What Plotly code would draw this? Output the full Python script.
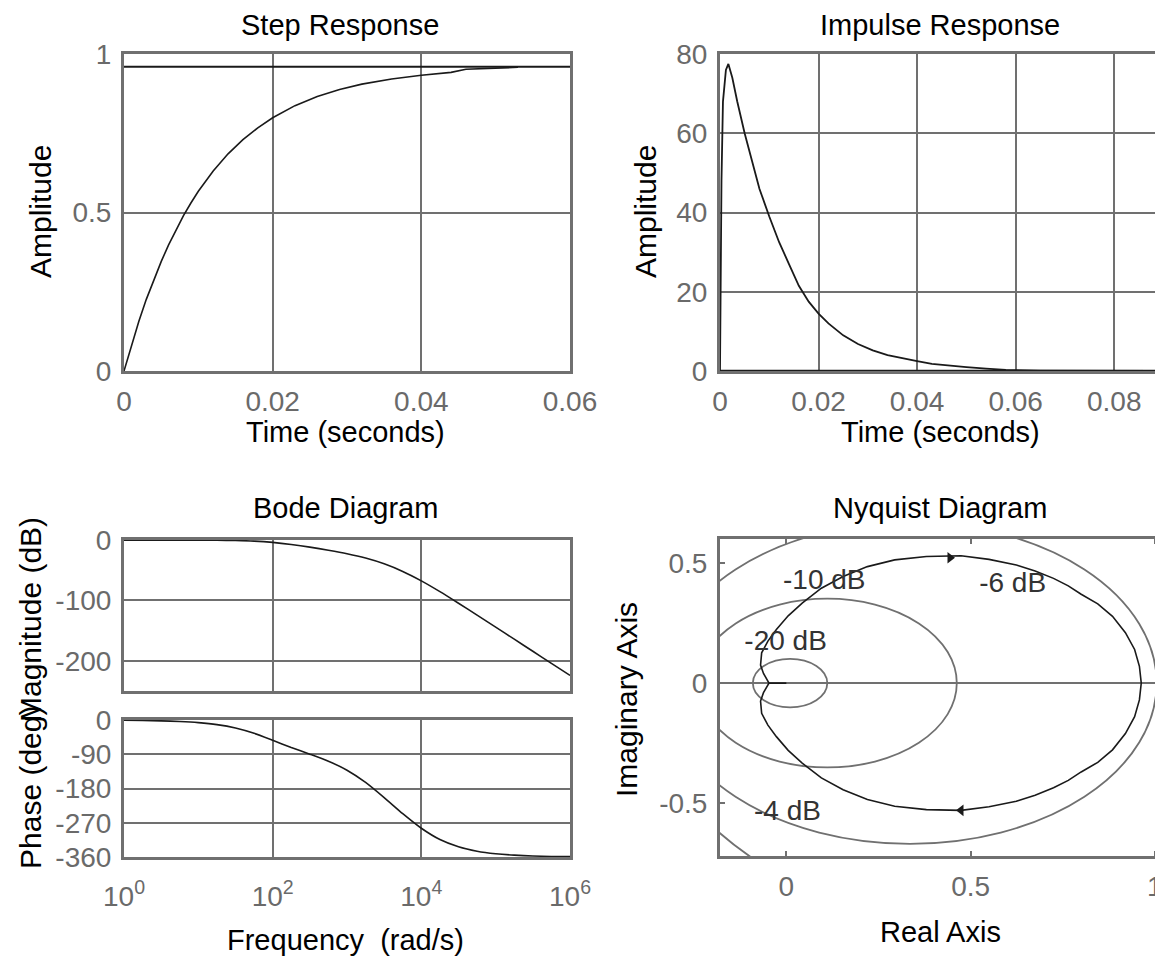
import plotly.graph_objects as go

# ---------------- data ----------------
# Step response
step_t = [0, 0.001, 0.002, 0.003, 0.004, 0.005, 0.006, 0.007, 0.008, 0.009, 0.010,
          0.012, 0.014, 0.016, 0.018, 0.020, 0.023, 0.026, 0.029, 0.032, 0.036,
          0.040, 0.044, 0.046, 0.053]
step_y = [0, 0.082, 0.157, 0.226, 0.288, 0.345, 0.398, 0.446, 0.490, 0.530, 0.567,
          0.631, 0.685, 0.730, 0.767, 0.799, 0.837, 0.866, 0.888, 0.905, 0.921,
          0.933, 0.942, 0.952, 0.958]
step_final = 0.96
step_t_end = 0.06

# Impulse response
imp_t = [0, 0.0001, 0.0003, 0.0006, 0.0012, 0.0017, 0.0025, 0.0035, 0.005, 0.0065,
         0.008, 0.010, 0.012, 0.014, 0.016, 0.018, 0.020, 0.022, 0.025, 0.028,
         0.031, 0.034, 0.037, 0.040, 0.043, 0.046, 0.050, 0.054, 0.058, 0.065, 0.09]
imp_y = [0, 17, 48, 68, 76, 77.5, 74, 68, 60, 53,
         46, 39, 32.5, 27, 21.5, 17.5, 14.5, 12, 9, 6.8,
         5.2, 4.0, 3.2, 2.5, 1.8, 1.4, 1.0, 0.6, 0.3, 0.1, 0]

# Bode diagram
bode_w = [1, 1.778, 3.162, 5.623, 10, 17.78, 31.62, 56.23, 100, 177.8, 316.2, 562.3,
          1000, 1778, 3162, 5623, 1e4, 17783, 31623, 56234, 1e5, 177828, 316228,
          562341, 1e6]
bode_mag = [-0.35, -0.35, -0.36, -0.37, -0.40, -0.52, -0.87, -1.81, -3.91, -7.38,
            -11.83, -16.90, -22.69, -29.85, -39.42, -52.03, -67.6, -85.47, -104.64,
            -124.36, -144.26, -164.23, -184.22, -204.22, -224.22]
bode_phase = [-0.7, -1.2, -2.2, -3.9, -6.9, -12.2, -21.1, -35.1, -53.3, -72.2, -89.8,
              -108.3, -131.9, -163.9, -203.8, -246.1, -284.4, -314.1, -333.1, -344.7,
              -351.4, -355.1, -357.3, -358.5, -359.1]

# Nyquist (positive-frequency branch; negative branch is its mirror)
nyq_re = [0.963, 0.958, 0.945, 0.92, 0.885, 0.845, 0.80, 0.765, 0.725, 0.675, 0.624,
          0.55, 0.474, 0.38, 0.294, 0.22, 0.154, 0.095, 0.043, 0.005, -0.027, -0.05,
          -0.067, -0.07, -0.062, -0.047, -0.02, 0.0]
nyq_im = [0.0, -0.07, -0.14, -0.21, -0.278, -0.33, -0.37, -0.405, -0.436, -0.467, -0.492,
          -0.515, -0.53, -0.527, -0.513, -0.485, -0.444, -0.395, -0.333, -0.28, -0.223,
          -0.175, -0.126, -0.075, -0.04, 0.0, 0.0, 0.0]
nyq_arrow_re = [0.474, 0.444]
nyq_arrow_im = [-0.53, 0.522]
nyq_grid_db = [-20, -10, -6, -4]
nyq_lbl_x = [0.103, 0.614, -0.002, 0.003]
nyq_lbl_y = [0.42, 0.407, 0.165, -0.54]
nyq_lbl_text = ["-10 dB", "-6 dB", "-20 dB", "-4 dB"]

# ---------------- styling ----------------
OFF = 8                      # page body margin of the viewer
W, H = 1163 - OFF, 960 - OFF
FONT = "Liberation Sans, Arial, Helvetica, sans-serif"
GRID = "#707070"
TICKC = "#6a6a6a"
CURVE = "#1a1a1a"
TICKFS = 28
TITLEFS = 29
ROTFS = 30


def px(x):
    return (x - OFF) / W


def py(y):
    return 1 - (y - OFF) / H


fig = go.Figure()

# Step
fig.add_trace(go.Scatter(x=[0, step_t_end], y=[step_final, step_final], mode="lines",
                         line=dict(color=CURVE, width=2), xaxis="x", yaxis="y"))
fig.add_trace(go.Scatter(x=step_t, y=step_y, mode="lines",
                         line=dict(color=CURVE, width=1.6), xaxis="x", yaxis="y"))
# Impulse
fig.add_trace(go.Scatter(x=[0, imp_t[-1]], y=[0, 0], mode="lines",
                         line=dict(color=CURVE, width=2.5), xaxis="x2", yaxis="y2"))
fig.add_trace(go.Scatter(x=imp_t, y=imp_y, mode="lines",
                         line=dict(color=CURVE, width=1.8), xaxis="x2", yaxis="y2"))
# Bode
fig.add_trace(go.Scatter(x=bode_w, y=bode_mag, mode="lines",
                         line=dict(color=CURVE, width=1.6, shape="spline", smoothing=0.6),
                         xaxis="x3", yaxis="y3"))
fig.add_trace(go.Scatter(x=bode_w, y=bode_phase, mode="lines",
                         line=dict(color=CURVE, width=1.6, shape="spline", smoothing=0.6),
                         xaxis="x4", yaxis="y4"))
# Nyquist curve: mirrored negative-frequency branch then positive branch
fig.add_trace(go.Scatter(x=nyq_re[::-1] + nyq_re, y=[-v for v in nyq_im[::-1]] + nyq_im,
                         mode="lines", line=dict(color=CURVE, width=1.6),
                         xaxis="x5", yaxis="y5"))
fig.add_trace(go.Scatter(x=nyq_arrow_re, y=nyq_arrow_im, mode="markers",
                         marker=dict(symbol=["triangle-left", "triangle-right"], size=10,
                                     color=CURVE),
                         xaxis="x5", yaxis="y5"))
fig.add_trace(go.Scatter(x=nyq_lbl_x, y=nyq_lbl_y, mode="text", text=nyq_lbl_text,
                         textfont=dict(family=FONT, size=TICKFS, color="#333333"),
                         xaxis="x5", yaxis="y5"))

for db in nyq_grid_db:
    m = 10 ** (db / 20)
    c = m * m / (1 - m * m)
    r = m / (1 - m * m)
    fig.add_shape(type="circle", xref="x5", yref="y5", x0=c - r, x1=c + r, y0=-r, y1=r,
                  line=dict(color=GRID, width=1.8), layer="below")


def ax(domain, rng, tickvals, ticktext, grid=True, showlabels=True, axtype="linear",
       standoff=4):
    return dict(domain=domain, range=rng, type=axtype, tickvals=tickvals, ticktext=ticktext,
                showgrid=grid, gridcolor=GRID, gridwidth=2, zeroline=False,
                showline=True, linecolor=GRID, linewidth=3, mirror="ticks",
                ticks="inside", ticklen=5, tickcolor=GRID, tickwidth=1.5,
                showticklabels=showlabels, ticklabelstandoff=standoff, automargin=False,
                ticklabeloverflow="allow",
                tickfont=dict(family=FONT, size=TICKFS, color=TICKC),
                layer="below traces", fixedrange=True)


xL = [px(124), px(570)]
xR = [px(720), 1.0]
yTop = [py(371), py(54)]
yMag = [py(691), py(540)]
yPh = [py(857), py(720)]
yNy = [py(856), py(539)]

bode_ticks = [1, 100, 1e4, 1e6]
bode_tt = ["10<sup>0</sup>", "10<sup>2</sup>", "10<sup>4</sup>", "10<sup>6</sup>"]

layout = dict(
    width=W, height=H, margin=dict(l=0, r=0, t=0, b=0, autoexpand=False),
    paper_bgcolor="white", plot_bgcolor="white", showlegend=False,
    font=dict(family=FONT, color="black"),
    xaxis=ax(xL, [0, 0.06], [0, 0.02, 0.04, 0.06], ["0", "0.02", "0.04", "0.06"],
             standoff=3),
    yaxis=ax(yTop, [0, 1], [0, 0.5, 1], ["0", "0.5", "1"]),
    xaxis2=ax(xR, [0, 0.0899], [0, 0.02, 0.04, 0.06, 0.08],
              ["0", "0.02", "0.04", "0.06", "0.08"], standoff=3),
    yaxis2=ax(yTop, [0, 80], [0, 20, 40, 60, 80], ["0", "20", "40", "60", "80"]),
    xaxis3=ax(xL, [0, 6], bode_ticks, bode_tt, showlabels=False, axtype="log"),
    yaxis3=ax(yMag, [-250, 0], [-200, -100, 0], ["-200", "-100", "0"]),
    xaxis4=ax(xL, [0, 6], bode_ticks, bode_tt, axtype="log", standoff=12),
    yaxis4=ax(yPh, [-360, 0], [-360, -270, -180, -90, 0],
              ["-360", "-270", "-180", "-90", "0"]),
    xaxis5=ax(xR, [-0.18, 1.022], [0, 0.5, 1], ["0", "0.5", "1"], grid=False, standoff=3),
    yaxis5=ax(yNy, [-0.72, 0.6], [-0.5, 0, 0.5], ["-0.5", "0", "0.5"], grid=False),
)
layout["yaxis5"].update(zeroline=True, zerolinecolor=GRID, zerolinewidth=2)
for k in ["xaxis", "xaxis2", "xaxis3", "xaxis4", "xaxis5"]:
    layout[k]["anchor"] = "y" + k[5:]
for k in ["yaxis", "yaxis2", "yaxis3", "yaxis4", "yaxis5"]:
    layout[k]["anchor"] = "x" + k[5:]

fig.update_layout(**layout)

annots = [
    ("Step Response", 340, 25, 0, TITLEFS),
    ("Impulse Response", 940, 25, 0, TITLEFS),
    ("Time (seconds)", 345, 432, 0, TITLEFS),
    ("Time (seconds)", 940, 432, 0, TITLEFS),
    ("Amplitude", 40, 212, -90, ROTFS),
    ("Amplitude", 645, 212, -90, ROTFS),
    ("Bode Diagram", 345, 508, 0, TITLEFS),
    ("Frequency\u00a0\u00a0(rad/s)", 345, 940, 0, TITLEFS),
    ("Magnitude (dB)", 30, 620, -90, ROTFS),
    ("Phase (deg)", 30, 788, -90, ROTFS),
    ("Nyquist Diagram", 940, 508, 0, TITLEFS),
    ("Imaginary Axis", 626, 700, -90, ROTFS),
    ("Real Axis", 940, 932, 0, TITLEFS),
]
for text, x, y, ang, fs in annots:
    fig.add_annotation(text=text, x=px(x), y=py(y), xref="paper", yref="paper",
                       xanchor="center", yanchor="middle", showarrow=False,
                       textangle=ang, font=dict(family=FONT, size=fs, color="black"))

fig.write_html("out.html")
